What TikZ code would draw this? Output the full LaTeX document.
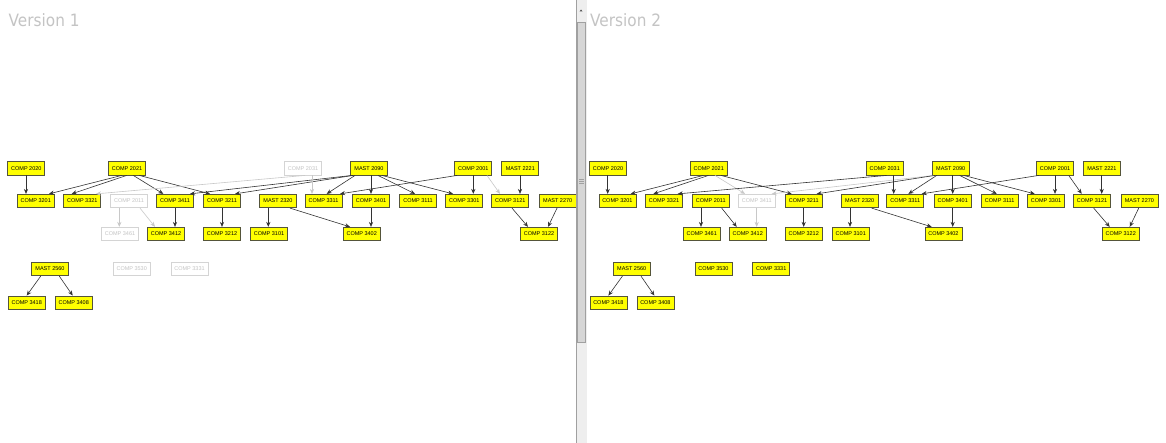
\documentclass[tikz,border=0pt]{standalone}
\usepackage{fontspec}
\setmainfont{Liberation Sans}
\newfontfamily\titlefont{DejaVu Sans}[FakeStretch=0.9]
\usetikzlibrary{arrows.meta}
\definecolor{boxyellow}{HTML}{FFFF00}
\definecolor{boxborder}{HTML}{55553A}
\definecolor{offborder}{HTML}{D4D4D4}
\definecolor{offtext}{HTML}{C4C4C4}
\definecolor{edgecol}{HTML}{333333}
\definecolor{offedge}{HTML}{C8C8C8}
\definecolor{titlegray}{HTML}{C4C4C4}
\definecolor{trackgray}{HTML}{EEEEEE}
\definecolor{thumbgray}{HTML}{D6D6D6}
\definecolor{thumbedge}{HTML}{A0A0A0}

\newcommand{\edgeline}[5]{\draw[#1] ([xshift=#3pt]#2.south) -- ([xshift=#5pt]#4.north);}

\newcommand{\drawgraph}[1]{%
  % row 1
  \node[on]    (#1-2020) at (26.3,168.3) {COMP 2020};
  \node[on]    (#1-2021) at (127,168.3) {COMP 2021};
  \node[n2031] (#1-2031) at (303,168.3) {COMP 2031};
  \node[on]    (#1-2090) at (369,168.3) {MAST 2090};
  \node[on]    (#1-2001) at (473.3,168.3) {COMP 2001};
  \node[on]    (#1-2221) at (520.3,168.3) {MAST 2221};
  % row 2
  \node[on]    (#1-3201) at (35.7,201) {COMP 3201};
  \node[on]    (#1-3321) at (82.3,201) {COMP 3321};
  \node[n2011] (#1-2011) at (129,201) {COMP 2011};
  \node[n3411] (#1-3411) at (175,201) {COMP 3411};
  \node[on]    (#1-3211) at (222,201) {COMP 3211};
  \node[on]    (#1-2320) at (278,201) {MAST 2320};
  \node[on]    (#1-3311) at (323.5,201) {COMP 3311};
  \node[on]    (#1-3401) at (371,201) {COMP 3401};
  \node[on]    (#1-3111) at (418,201) {COMP 3111};
  \node[on]    (#1-3301) at (464.3,201) {COMP 3301};
  \node[on]    (#1-3121) at (510.3,201) {COMP 3121};
  \node[on]    (#1-2270) at (557.7,201) {MAST 2270};
  % row 3
  \node[n3461] (#1-3461) at (120,234) {COMP 3461};
  \node[on]    (#1-3412) at (166,234) {COMP 3412};
  \node[on]    (#1-3212) at (222,234) {COMP 3212};
  \node[on]    (#1-3101) at (269,234) {COMP 3101};
  \node[on]    (#1-3402) at (361.7,234) {COMP 3402};
  \node[on]    (#1-3122) at (539,234) {COMP 3122};
  % row 4
  \node[on]    (#1-2560) at (50,269) {MAST 2560};
  \node[n3530] (#1-3530) at (131.7,269) {COMP 3530};
  \node[n3331] (#1-3331) at (189.5,269) {COMP 3331};
  % row 5
  \node[on]    (#1-3418) at (26.7,302.7) {COMP 3418};
  \node[on]    (#1-3408) at (73.7,302.7) {COMP 3408};
  % edges
  \edgeline{eon}{#1-2020}{-0.3}{#1-3201}{-9.7}
  \edgeline{eon}{#1-2021}{-5.3}{#1-3201}{13.3}
  \edgeline{eon}{#1-2021}{-0.3}{#1-3321}{-10.6}
  \edgeline{e3411}{#1-2021}{6.3}{#1-3411}{-11.7}
  \edgeline{eon}{#1-2021}{12.3}{#1-3211}{-12}
  \edgeline{e3411}{#1-2090}{-17}{#1-3411}{15}
  \edgeline{eon}{#1-2090}{-16}{#1-3211}{13}
  \edgeline{e2031}{#1-2031}{2}{#1-3321}{13.7}
  \edgeline{e2031}{#1-2031}{9}{#1-3311}{-11.5}
  \edgeline{eon}{#1-2090}{-14}{#1-3311}{3.2}
  \edgeline{eon}{#1-2090}{2}{#1-3401}{0}
  \edgeline{eon}{#1-2090}{9}{#1-3111}{-3}
  \edgeline{eon}{#1-2090}{13}{#1-3301}{-11.3}
  \edgeline{eon}{#1-2001}{-16.3}{#1-3311}{16.5}
  \edgeline{eon}{#1-2001}{0}{#1-3301}{9}
  \edgeline{e2001}{#1-2001}{13.7}{#1-3121}{-10.3}
  \edgeline{eon}{#1-2221}{-0.3}{#1-3121}{9.7}
  \edgeline{eon}{#1-3121}{1.7}{#1-3122}{-11}
  \edgeline{eon}{#1-2270}{-0.7}{#1-3122}{9}
  \edgeline{eon}{#1-3401}{0}{#1-3402}{9.3}
  \edgeline{eon}{#1-2320}{12}{#1-3402}{-11.7}
  \edgeline{eon}{#1-2320}{-9.7}{#1-3101}{-0.7}
  \edgeline{eon}{#1-3211}{0}{#1-3212}{0}
  \edgeline{e3411}{#1-3411}{0}{#1-3412}{9}
  \edgeline{e2011}{#1-2011}{-9.7}{#1-3461}{-0.7}
  \edgeline{e2011}{#1-2011}{11}{#1-3412}{-11}
  \edgeline{eon}{#1-2560}{-9.3}{#1-3418}{0}
  \edgeline{eon}{#1-2560}{9.3}{#1-3408}{-1}
}

\begin{document}
\begin{tikzpicture}[x=1pt,y=-1pt,
  on/.style={draw=boxborder, fill=boxyellow, text=black, line width=0.75pt,
    minimum width=37pt, minimum height=13.5pt, inner sep=0pt,
    font=\fontsize{5.5}{6}\selectfont},
  off/.style={on, draw=offborder, fill=white, text=offtext},
  eon/.style={draw=edgecol, line width=0.6pt, -{Stealth[length=5pt,width=4.2pt]}},
  eoff/.style={eon, draw=offedge},
  title/.style={font=\titlefont\fontsize{17}{20}\selectfont, text=titlegray, inner sep=0pt, anchor=base west}]
\useasboundingbox (0,0) rectangle (1166,443);
\fill[white] (0,0) rectangle (1166,443);

% titles
\node[title] (t1) at (8.5,26.7) {Version 1};
\node[title] (t2) at (590,26.7) {Version 2};

% version 1
\begin{scope}[n2011/.style=off, n2031/.style=off, n3411/.style=on,
  n3461/.style=off, n3530/.style=off, n3331/.style=off,
  e2011/.style=eoff, e2031/.style=eoff, e3411/.style=eon, e2001/.style=eoff]
\drawgraph{a}
\end{scope}

% version 2
\begin{scope}[xshift=581.7pt, n2011/.style=on, n2031/.style=on, n3411/.style=off,
  n3461/.style=on, n3530/.style=on, n3331/.style=on,
  e2011/.style=eon, e2031/.style=eon, e3411/.style=eoff, e2001/.style=eon]
\drawgraph{b}
\end{scope}

% scrollbar
\fill[trackgray] (576,0) rectangle (587,443);
\draw[thumbedge, line width=0.5pt] (576,0) -- (576,443);
\draw[fill=thumbgray, draw=thumbedge, line width=0.6pt] (577,22) rectangle (585.3,342);
\fill[black!70] (579.5,11.5) -- (582.5,11.5) -- (581,9.5) -- cycle;
\foreach \yy in {179.5,181.5,183.5} \draw[thumbedge, line width=0.5pt] (579,\yy) -- (583.5,\yy);
\end{tikzpicture}
\end{document}
